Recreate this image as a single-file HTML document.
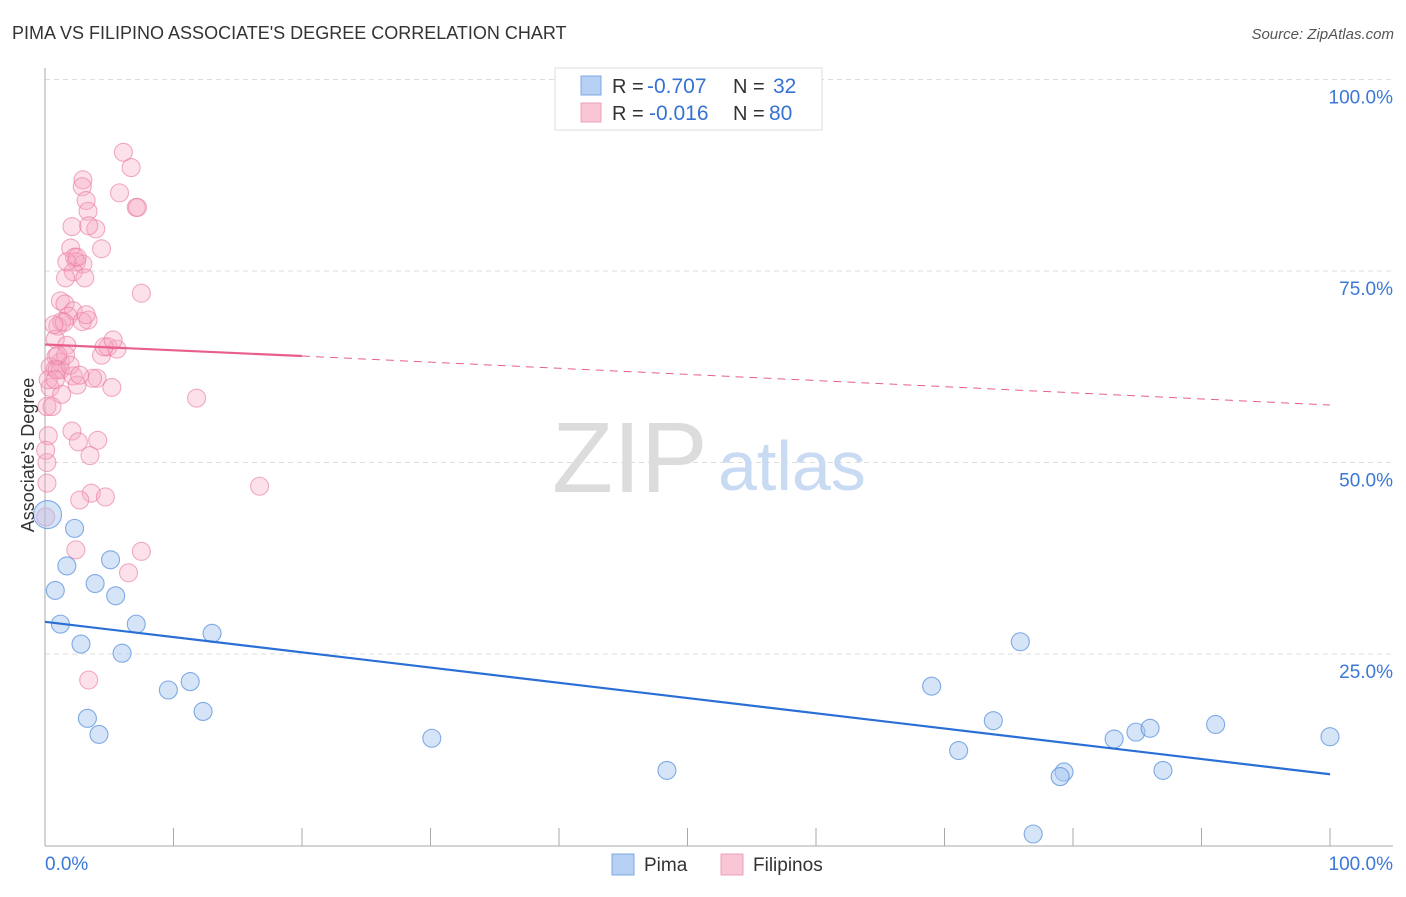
<!DOCTYPE html>
<html><head><meta charset="utf-8"><style>
body{margin:0;background:#fff;font-family:"Liberation Sans",sans-serif;}
svg text{font-family:"Liberation Sans",sans-serif;}
</style></head><body>
<svg id="chart" width="1406" height="892" xmlns="http://www.w3.org/2000/svg">
<text x="12" y="39" font-size="18" fill="#333">PIMA VS FILIPINO ASSOCIATE'S DEGREE CORRELATION CHART</text>
<text x="1394" y="39" font-size="15" fill="#555" text-anchor="end" font-style="italic">Source: ZipAtlas.com</text>
<g id="grid"></g>
<text x="552" y="492" font-size="100" fill="#dcdcdc" font-family="Liberation Serif">ZIP</text>
<text x="718" y="490" font-size="70" fill="#c9daf3">atlas</text>
<g id="axes"></g>
<g id="pts"></g>
<g id="lines"></g>
<text transform="translate(34,455) rotate(-90)" font-size="18" fill="#333" text-anchor="middle">Associate's Degree</text>
<g>
<rect x="555" y="68" width="267" height="62" fill="#fff" stroke="#ddd"/>
<rect x="581" y="76" width="20" height="19" fill="#b6d0f3" stroke="#7fa9e3"/>
<rect x="581" y="103" width="20" height="19" fill="#f9c6d5" stroke="#eda0b8"/>
<text x="612" y="93" font-size="20" fill="#333">R =</text>
<text x="647" y="93" font-size="21" fill="#3572d1">-0.707</text>
<text x="733" y="93" font-size="20" fill="#333">N =</text>
<text x="773" y="93" font-size="21" fill="#3572d1">32</text>
<text x="612" y="120" font-size="20" fill="#333">R =</text>
<text x="649" y="120" font-size="21" fill="#3572d1">-0.016</text>
<text x="733" y="120" font-size="20" fill="#333">N =</text>
<text x="769" y="120" font-size="21" fill="#3572d1">80</text>
</g>
<g>
<rect x="612" y="854" width="22" height="21" fill="#b6d0f3" stroke="#7fa9e3"/>
<text x="644" y="871" font-size="19" fill="#333">Pima</text>
<rect x="721" y="854" width="22" height="21" fill="#f9c6d5" stroke="#eda0b8"/>
<text x="753" y="871" font-size="19" fill="#333">Filipinos</text>
</g>
</svg>
<script>
const pimaX=[2.3,0.8,1.7,1.2,3.9,5.1,5.5,2.8,6.0,7.1,3.3,4.2,9.6,11.3,12.3,13.0,30.1,48.4,69.0,71.1,73.8,75.9,79.3,79.0,76.9,83.2,84.9,86.0,87.0,91.1,100,0.2];
const pimaY=[41.4,33.3,36.5,28.9,34.2,37.3,32.6,26.3,25.1,28.9,16.6,14.5,20.3,21.4,17.5,27.7,14.0,9.8,20.8,12.4,16.3,26.6,9.6,9.0,1.5,13.9,14.8,15.3,9.8,15.8,14.2,43.2];
const filX=[6.1,6.7,2.95,2.9,5.8,7.1,7.2,3.2,3.35,2.1,3.95,3.4,2.0,4.4,2.3,2.45,2.95,2.2,1.6,3.1,7.5,1.2,1.55,2.2,1.8,3.35,1.0,1.3,1.5,0.8,1.7,4.4,4.9,5.6,4.6,0.85,1.2,0.4,0.8,1.2,2.2,4.05,3.7,2.5,5.2,0.4,0.25,0.15,11.8,2.1,4.1,0.25,2.6,3.5,0.15,0.15,3.6,4.7,2.7,16.7,2.4,7.5,6.5,3.4,0.05,0.55,1.6,0.95,1.3,2.9,3.2,0.8,1.95,0.7,0.05,1.7,2.5,1.0,2.7,5.3];
const filY=[90.5,88.5,86.9,86.0,85.2,83.3,83.3,84.2,82.8,80.8,80.5,80.9,78.0,77.9,76.8,76.2,75.9,74.9,74.1,74.1,72.1,71.1,70.7,69.8,69.1,68.6,67.8,68.4,68.3,66.1,65.3,64.0,65.1,64.8,65.1,63.8,63.1,62.5,62.2,62.1,61.3,61.0,61.0,60.1,59.8,59.8,60.8,57.3,58.4,54.1,52.9,53.5,52.7,50.9,50.0,47.3,46.0,45.5,45.1,46.9,38.6,38.4,35.6,21.6,42.9,57.3,64.0,62.1,58.9,68.4,69.3,60.8,62.7,68.0,51.6,76.2,76.8,64.0,61.4,66.0];
const sx=v=>45+v*12.85, sy=v=>845.5-v*7.66;
const NS="http://www.w3.org/2000/svg";
function mk(tag,at,parent){const e=document.createElementNS(NS,tag);for(const k in at)e.setAttribute(k,at[k]);parent.appendChild(e);return e;}
const grid=document.getElementById('grid'),axes=document.getElementById('axes'),pts=document.getElementById('pts'),lines=document.getElementById('lines');
const yTicks=[25,50,75,100];
yTicks.forEach(t=>{
 const l=mk('line',{x1:45,x2:1393,y1:sy(t),y2:sy(t),stroke:'#ddd','stroke-dasharray':'5,4'},grid);
 
 
 const tx=mk('text',{x:1393,y:sy(t)+24,'font-size':19,fill:'#3b78d8','text-anchor':'end'},grid);
 tx.textContent=t.toFixed(1)+'%';
 
 
});
mk('line',{x1:45,x2:45,y1:68,y2:846,stroke:'#aaa'},axes);
mk('line',{x1:45,x2:1393,y1:846,y2:846,stroke:'#aaa'},axes);
for(let i=0;i<=10;i++){const t=mk('line',{x1:sx(i*10),x2:sx(i*10),y1:828,y2:846,stroke:'#aaa'},axes);
 
 }
const xl=mk('text',{x:45,y:870,'font-size':19,fill:'#3b78d8'},axes);xl.textContent='0.0%';


const xr=mk('text',{x:1393,y:870,'font-size':19,fill:'#3b78d8','text-anchor':'end'},axes);xr.textContent='100.0%';


filX.forEach((x,i)=>{const c=mk('circle',{cx:sx(x),cy:sy(filY[i]),r:9,fill:'rgba(245,170,195,0.35)',stroke:'rgba(232,120,160,0.6)','stroke-width':1.1},pts);
 
 });
pimaX.forEach((x,i)=>{const c=mk('circle',{cx:sx(x),cy:sy(pimaY[i]),r:i==31?14:9,fill:'rgba(165,195,240,0.45)',stroke:'rgba(90,145,220,0.75)','stroke-width':1.1},pts);
 
 });
const pl=mk('line',{x1:sx(0),y1:sy(65.4),x2:sx(20),y2:sy(63.9),stroke:'#e8608a','stroke-width':2.2},lines);


const pd=mk('line',{x1:sx(20),y1:sy(63.9),x2:sx(100),y2:sy(57.5),stroke:'#e8608a','stroke-width':1,'stroke-dasharray':'8,6'},lines);


const bl=mk('line',{x1:sx(0),y1:sy(29.2),x2:sx(100),y2:sy(9.3),stroke:'#2a6fd6','stroke-width':2.2},lines);


</script>
</body></html>
